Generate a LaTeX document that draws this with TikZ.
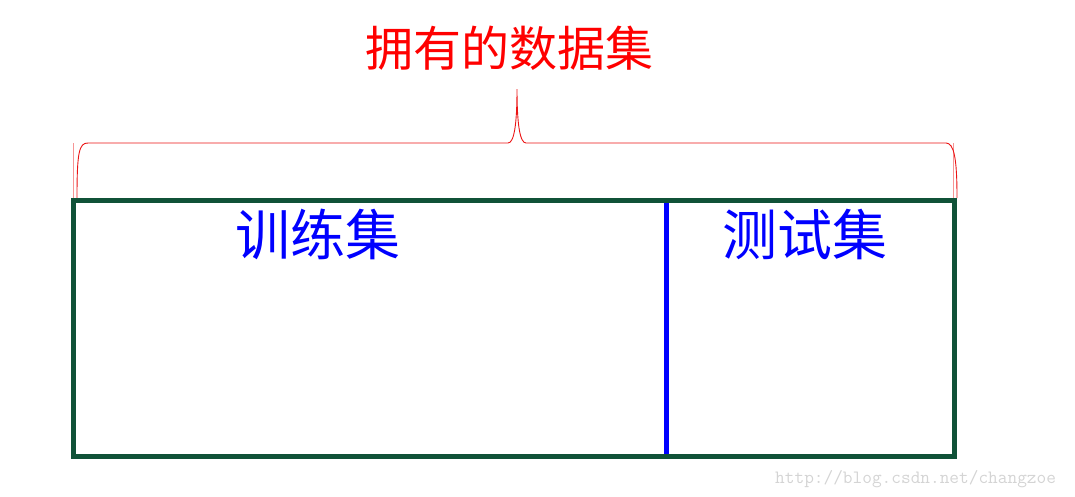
\documentclass[tikz,border=0pt]{standalone}
\usepackage{fontspec}
\newfontfamily\cjk{Noto Sans CJK SC}
\definecolor{boxgreen}{RGB}{16,82,56}
\definecolor{wmgrey}{RGB}{212,212,212}
\definecolor{bracered}{RGB}{235,20,20}
\begin{document}
\begin{tikzpicture}[x=1pt,y=-1pt,
  redlabel/.style={text=red,font=\cjk\fontsize{48}{48}\selectfont,inner sep=0pt},
  bluelabel/.style={text=blue,font=\cjk\fontsize{55}{55}\selectfont,inner sep=0pt},
  bracestyle/.style={draw=bracered,line width=0.9pt},
  ghost/.style={draw=bracered!45,line width=0.8pt},
  wm/.style={text=wmgrey,font=\ttfamily\fontsize{18.8}{18.8}\selectfont,inner sep=0pt,anchor=west}]
\useasboundingbox (0,0) rectangle (1075,496);
% brace
\draw[ghost] (73,143) -- (73,198);
\draw[ghost] (953,143) -- (953,198);
\draw[bracestyle] (77,198) .. controls (77,152) and (79,143) .. (88,143) -- (508,143)
  .. controls (514,143) and (517,125) .. (517,89)
  .. controls (517,125) and (520,143) .. (526,143) -- (946,143)
  .. controls (954,143) and (957,158) .. (957,198);
% boxes
\coordinate (dtop) at (666,200);
\coordinate (dbot) at (666,456);
\draw[blue,line width=5pt] (dtop) -- (dbot);
\draw[boxgreen,line width=5pt] (73,200) rectangle (954,456);
% labels
\node[redlabel] (all) at (509,48) {拥有的数据集};
\node[bluelabel] (train) at (318,234) {训练集};
\node[bluelabel] (test) at (805,234) {测试集};
\node[wm] (url) at (775,479) {http://blog.csdn.net/changzoe};
\end{tikzpicture}
\end{document}
